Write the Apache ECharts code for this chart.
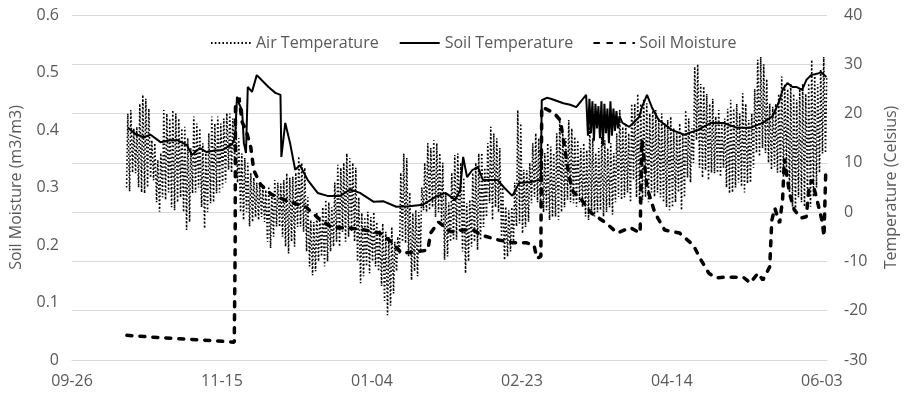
<!DOCTYPE html>
<html>
<head>
<meta charset="utf-8">
<script src="https://cdn.jsdelivr.net/npm/echarts@6/dist/echarts.min.js"></script>
<style>
  html, body { margin: 0; background: #fff; }
  #chart { width: 907px; height: 396px; }
</style>
</head>
<body>
<div id="chart"></div>
<script>
// x values are days after 09-26
const startDate = Date.UTC(2018, 8, 26);
const dayMax = 251.7;

// air temperature: daily low / high, one entry per day from airStartDay
const airStartDay = 18;
const airHigh = [
  20, 20.7, 17, 17.3, 22, 23.8, 23, 21, 14.6, 14,        // 18
  10.6, 12, 20.7, 20, 19, 20.7, 20, 19, 17, 17.3,        // 28
  15, 13, 19.4, 18, 17, 14, 12, 16, 19.4, 18,            // 38
  19.4, 18, 19, 20.1, 20, 19, 18.7, 15, 11.9, 11,        // 48
  10, 7.9, 7, 6, 5.8, 5, 4.5, 5.2, 4, 6.5,               // 58
  6, 5.8, 6.5, 7.9, 7, 7.2, 8, 11.3, 10, 9,              // 68
  3, -1.6, -2, 0, -1, 1, 2.5, 2, 1, 6,                   // 78
  9.6, 9, 10, 11.9, 11, 10, 9, 3, -0.2, -1,              // 88
  0.1, -1, 0, -2, -3.6, -2.3, -4, -5, -3, -6,            // 98
  -5, 8, 11.9, 11, 4, -0.2, 0.4, 0, 5, 10,               // 108
  14, 13, 14.6, 14, 12, 10, 3.8, 2, 8, 11.6,             // 118
  11.9, 10, 7, 1.8, 2.5, 8, 10, 11.9, 12, 9,             // 128
  14, 17.3, 16, 15, 13, 5, 1.1, 0.4, 1, 6,               // 138
  20.7, 18, 8.6, 8.5, 10, 14, 16, 15, 13, 12,            // 148
  14, 13.3, 12, 16, 18.7, 16, 15, 18.7, 17, 15.3,        // 158
  14.6, 13, 14, 12.6, 17.3, 15, 12, 13, 15.3, 14.6,      // 168
  13, 14, 12, 16, 20.7, 17.3, 18, 16, 22, 22,            // 178
  24, 22, 23, 22.1, 20, 21, 20.7, 19, 20, 18,            // 188
  18.7, 19.4, 17, 16, 18, 16, 20.7, 19, 17, 29.5,        // 198
  30, 26, 25.5, 24, 22, 23, 19.4, 20.7, 18, 19,          // 208
  21, 22.8, 21, 22, 20, 24.1, 22, 18.7, 20, 25,          // 218
  30.9, 31.5, 30, 27, 22, 21.4, 22, 24, 27.5, 26,        // 228
  25, 26.1, 24, 22.8, 25, 26, 24, 26.1, 30.9, 28,        // 238
  26, 29, 31.5, 27.5                                     // 248
];
const airLow = [
  5, 4.2, 8, 7.9, 5, 4, 3.8, 5, 7, 6.5,
  2, 0.1, 3, 2.5, 4, 1, 0.4, 2, 3, 0,
  -3.6, -2, 3.8, 4, 5, 1, -3.3, 0, 1.8, 2,
  3.8, 4, 5, 6, 8.6, 8, 10, 6, 0, -1.6,
  0, -2.9, -2, -1, -1.6, -1, -2, -6, -7.3, -5,
  -2.9, -3, -5, -7, -8.4, -6, -7, -3, -2.9, -4,
  -8, -11, -12.8, -12, -10, -9, -11, -10, -8, -7,
  -6, -7, -4, -6, -5, -4, -6, -10, -14.4, -13,
  -11, -12.4, -10, -11, -12, -15, -18, -20.9, -19, -16.5,
  -12, -8.4, -6, -6.3, -9, -13.8, -12, -13, -8, 0.4,
  0, 0.4, 1, -1, 0, -2, -9.7, -9, -6, -5.7,
  -5.6, -4, -8, -12.4, -10, -7, -6, -7.7, -5.7, -3,
  -1, 1.8, -1.6, 1, 0, -5, -9.7, -9, -8, -6,
  -2.9, -2.3, -4.3, -3, -2, 1.8, 3.1, 2, 1, 0,
  0.4, -1.6, -1, -0.9, -1.6, 0, 1, 2.5, 2, 1.8,
  1.1, 2, 1, -0.9, -1.6, 0, -0.9, 0, 0.4, -0.9,
  0, 1, -0.5, 2, 3.1, 2.5, 3, 4, 2, 6.5,
  3, 1.8, 2.5, 3.1, 2, 4, 3.1, 4, 3, 2,
  1, 0.4, 1, 2, 4, 0.4, 3, 7, 6, 10,
  14.6, 9, 7, 8.5, 6.5, 8, 7.9, 8, 7.2, 9,
  5, 3.8, 4, 5, 6, 5.2, 4, 5.8, 6, 9,
  12, 11.3, 13, 12, 10, 8.6, 9.2, 8, 7.9, 7.2,
  9, 4, 1.1, 0.4, 3, 2, 1.1, 3, 1.1, 3.1,
  5, 8, 11.9, 12
];

// soil temperature
const soilDay = [
  18.7, 21.3, 23.9, 26.2, 29.5, 32.8, 35.1, 38.3, 40.0, 42.6, 44.9, 47.5, 50.1, 53.4, 54.4,
  55.0, 55.7, 56.7, 57.3, 58.0, 58.6, 60.0, 61.6, 63.2, 65.5, 67.8, 69.5, 69.8, 71.1, 72.7,
  74.4, 76.0, 78.6, 81.9, 85.2, 89.4, 92.7, 96.0, 100.6, 103.9, 108.1, 112.4, 117.0, 121.2,
  124.5, 127.8, 129.4, 130.4, 131.7, 133.4, 135.3, 137.0, 139.9, 141.9, 144.2, 146.8, 149.1,
  153.0, 155.6, 156.3, 156.6, 158.3, 159.6, 161.5, 163.8, 166.1, 168.1, 169.7, 171.4,
  172.0, 172.5, 173.0, 173.5, 174.0, 174.5, 175.0, 175.5, 176.0, 176.5, 177.0, 177.5,
  178.0, 178.5, 179.0, 179.5, 180.0, 180.5, 181.0, 181.5, 182.0, 182.5,
  183.5, 185.8, 189.1, 190.0, 191.7, 193.3, 195.6, 199.9, 204.1, 208.7, 213.0, 217.2,
  221.8, 226.1, 230.3, 233.6, 235.9, 236.9, 238.5, 240.2, 241.5, 243.4, 244.8, 246.4,
  246.7, 249.0, 249.7, 251.5
];
const soilTemp = [
  17.1, 15.8, 15.2, 15.7, 14.2, 14.6, 14.6, 13.6, 11.6, 13.0, 12.2, 12.5, 12.6, 13.8, 15.2,
  23.4, 22.0, 20.7, 14.0, 12.0, 25.4, 24.4, 27.8, 26.8, 25.4, 24.2, 23.8, 11.2, 18.1, 14.0,
  8.6, 9.5, 6.5, 3.9, 3.3, 3.3, 4.6, 3.9, 2.1, 2.2, 1.1, 1.2, 1.5, 3.1,
  3.9, 2.5, 4.5, 11.2, 7.1, 8.5, 9.2, 6.5, 6.5, 6.5, 4.9, 3.3, 5.9,
  6.1, 6.5, 6.3, 22.7, 23.2, 23.0, 22.6, 22.1, 21.8, 21.3, 22.5, 23.8,
  15.5, 23, 16, 22.5, 14.5, 22, 17, 21.5, 15, 22.5, 13.5, 22,
  16, 21, 14, 22.5, 15.5, 21, 16.5, 20.5, 17, 19.5,
  18.1, 17.3, 19.3, 21.3, 23.8, 21.3, 18.7, 16.7, 15.7, 16.7, 18.1, 18.1,
  17.1, 17.1, 18.1, 19.5, 22.7, 24.8, 26.2, 25.4, 25.4, 24.8, 26.8, 27.8,
  27.4, 28.2, 28.4, 27.4
];

// soil moisture
const moistDay = [
  18.3, 26.2, 36.0, 45.9, 54.1, 54.4, 54.5, 55.7, 56.7, 58.0, 59.6, 60.6, 62.9, 66.5, 71.1,
  74.4, 78.0, 82.9, 86.8, 91.7, 97.6, 102.6, 107.1, 109.8, 114.7, 118.6, 119.6, 122.2, 126.1,
  130.4, 133.7, 136.6, 141.9, 146.8, 151.4, 154.0, 155.0, 156.3, 156.6, 156.9, 160.6, 162.8,
  163.8, 164.8, 165.8, 167.1, 169.4, 173.0, 177.6, 181.8, 186.1, 189.4, 190.0, 191.7, 194.3,
  197.6, 202.5, 207.1, 209.7, 212.3, 214.6, 217.9, 220.5, 223.8, 226.1, 228.7, 230.3, 232.6,
  233.3, 234.3, 235.9, 236.9, 237.5, 239.2, 240.8, 243.1, 244.8, 245.7, 246.7, 248.3, 250.0,
  250.7, 251.3
];
const moist = [
  0.043, 0.040, 0.037, 0.034, 0.031, 0.20, 0.44, 0.456, 0.414, 0.40, 0.37, 0.33, 0.305, 0.288, 0.278,
  0.272, 0.266, 0.243, 0.230, 0.230, 0.226, 0.221, 0.203, 0.186, 0.188, 0.191, 0.221, 0.240, 0.223,
  0.226, 0.226, 0.217, 0.209, 0.204, 0.204, 0.200, 0.177, 0.18, 0.44, 0.438, 0.43, 0.417,
  0.384, 0.35, 0.317, 0.292, 0.282, 0.256, 0.240, 0.221, 0.230, 0.221, 0.383, 0.30, 0.256,
  0.226, 0.221, 0.200, 0.174, 0.151, 0.143, 0.144, 0.144, 0.144, 0.134, 0.151, 0.139, 0.162,
  0.243, 0.264, 0.238, 0.28, 0.35, 0.29, 0.261, 0.247, 0.249, 0.30, 0.313, 0.28, 0.243,
  0.215, 0.33
];

const seriesNames = ['Air Temperature', 'Soil Temperature', 'Soil Moisture'];

const airData = [];
airHigh.forEach((h, i) => {
  const d = airStartDay + i;
  airData.push([d + 0.2, airLow[i]]);
  airData.push([d + 0.6, h]);
});
const soilData = soilDay.map((d, i) => [d, soilTemp[i]]);
const moistData = moistDay.map((d, i) => [d, moist[i]]);

const textColor = '#595959';
const gridColor = '#d9d9d9';
const font = '"Open Sans", "Noto Sans", sans-serif';

const pad = (n) => (n < 10 ? '0' : '') + n;
const dayLabel = (v) => {
  if (Math.abs(v % 50) > 1e-6) return '';
  const dt = new Date(startDate + v * 86400000);
  return pad(dt.getUTCMonth() + 1) + '-' + pad(dt.getUTCDate());
};

const chart = echarts.init(document.getElementById('chart'));

const option = {
  animation: false,
  backgroundColor: '#fff',
  textStyle: { fontFamily: font },
  legend: {
    data: seriesNames,
    left: 205,
    top: 30,
    itemWidth: 40,
    itemHeight: 14,
    itemGap: 20,
    // hide the marker dot, keep only the line sample
    itemStyle: { opacity: 0 },
    textStyle: { color: textColor, fontSize: 16, fontFamily: font }
  },
  grid: { left: 71, right: 69, top: 15, bottom: 36, containLabel: false },
  xAxis: {
    type: 'value',
    min: 0,
    max: dayMax,
    interval: 50,
    axisLine: { show: true, lineStyle: { color: gridColor, width: 1 } },
    axisTick: { show: false },
    splitLine: { show: false },
    axisLabel: {
      color: textColor,
      fontSize: 16,
      fontFamily: font,
      margin: 13,
      formatter: dayLabel
    }
  },
  yAxis: [
    {
      type: 'value',
      min: 0,
      max: 0.6,
      interval: 0.1,
      name: 'Soil Moisture (m3/m3)',
      nameLocation: 'middle',
      nameGap: 48,
      nameRotate: 90,
      nameTextStyle: { color: textColor, fontSize: 16, fontFamily: font },
      axisLine: { show: false },
      axisTick: { show: false },
      splitLine: { show: false },
      axisLabel: { color: textColor, fontSize: 16, fontFamily: font, margin: 13 }
    },
    {
      type: 'value',
      position: 'right',
      min: -30,
      max: 40,
      interval: 10,
      name: 'Temperature (Celsius)',
      nameLocation: 'middle',
      nameGap: 56,
      nameRotate: 90,
      nameTextStyle: { color: textColor, fontSize: 16, fontFamily: font },
      axisLine: { show: false },
      axisTick: { show: false },
      splitLine: { show: true, lineStyle: { color: gridColor, width: 1 } },
      axisLabel: { color: textColor, fontSize: 16, fontFamily: font, margin: 17 }
    }
  ],
  series: [
    {
      name: seriesNames[0],
      type: 'line',
      yAxisIndex: 1,
      data: airData,
      symbol: 'none',
      lineStyle: { color: '#000', width: 1.6, type: [1.6, 2.2], cap: 'butt' },
      itemStyle: { color: '#000' },
      z: 2
    },
    {
      name: seriesNames[1],
      type: 'line',
      yAxisIndex: 1,
      data: soilData,
      symbol: 'none',
      lineStyle: { color: '#000', width: 2 },
      itemStyle: { color: '#000' },
      z: 3
    },
    {
      name: seriesNames[2],
      type: 'line',
      yAxisIndex: 0,
      data: moistData,
      symbol: 'none',
      lineStyle: { color: '#000', width: 3.5, type: [5, 8], cap: 'round' },
      itemStyle: { color: '#000' },
      z: 4
    }
  ]
};

chart.setOption(option);
</script>
</body>
</html>
